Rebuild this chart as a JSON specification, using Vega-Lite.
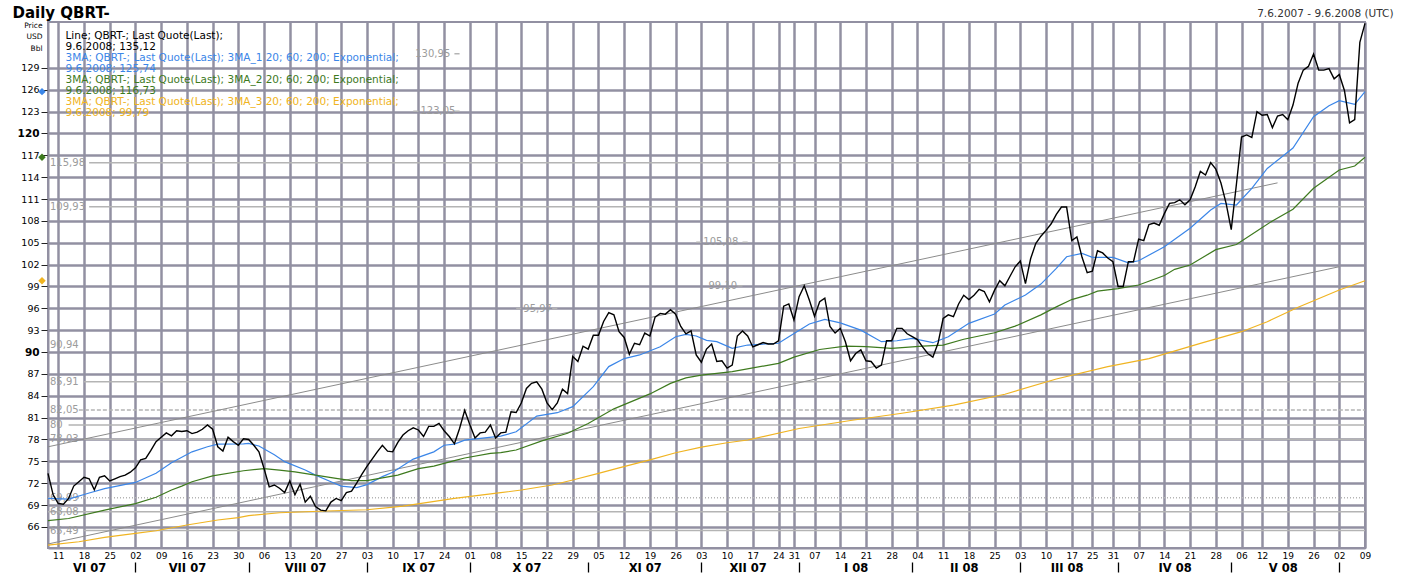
{
"$schema":"https://vega.github.io/schema/vega-lite/v6.json",
"width":1317,"height":526,
"autosize":{"type":"none"},
"padding":{"left":48,"top":22,"right":41,"bottom":27},
"background":"white",
"config":{"view":{"stroke":"#9290a2","strokeWidth":2}},
"datasets":{
"px":[
{"d":"2007-06-07","v":73.35},{"d":"2007-06-08","v":70.4},{"d":"2007-06-11","v":69.2},{"d":"2007-06-12","v":69.1},{"d":"2007-06-13","v":69.9},{"d":"2007-06-14","v":71.6},{"d":"2007-06-15","v":72.2},{"d":"2007-06-18","v":72.8},{"d":"2007-06-19","v":72.6},{"d":"2007-06-20","v":71.1},{"d":"2007-06-21","v":72.8},{"d":"2007-06-22","v":73.0},{"d":"2007-06-25","v":72.3},{"d":"2007-06-26","v":72.6},{"d":"2007-06-27","v":72.9},{"d":"2007-06-28","v":73.1},{"d":"2007-06-29","v":73.5},
{"d":"2007-07-02","v":74.1},{"d":"2007-07-03","v":75.2},{"d":"2007-07-04","v":75.4},{"d":"2007-07-05","v":76.5},{"d":"2007-07-06","v":77.7},{"d":"2007-07-09","v":78.3},{"d":"2007-07-10","v":78.9},{"d":"2007-07-11","v":78.5},{"d":"2007-07-12","v":79.2},{"d":"2007-07-13","v":79.1},{"d":"2007-07-16","v":79.2},{"d":"2007-07-17","v":78.8},{"d":"2007-07-18","v":79.0},{"d":"2007-07-19","v":79.4},{"d":"2007-07-20","v":80.0},{"d":"2007-07-23","v":79.4},{"d":"2007-07-24","v":77.0},{"d":"2007-07-25","v":76.4},{"d":"2007-07-26","v":78.3},{"d":"2007-07-27","v":77.7},{"d":"2007-07-30","v":77.2},{"d":"2007-07-31","v":78.1},
{"d":"2007-08-01","v":78.0},{"d":"2007-08-02","v":77.2},{"d":"2007-08-03","v":76.3},{"d":"2007-08-06","v":74.0},{"d":"2007-08-07","v":71.5},{"d":"2007-08-08","v":71.75},{"d":"2007-08-09","v":71.3},{"d":"2007-08-10","v":70.7},{"d":"2007-08-13","v":72.3},{"d":"2007-08-14","v":70.4},{"d":"2007-08-15","v":71.85},{"d":"2007-08-16","v":69.4},{"d":"2007-08-17","v":70.2},{"d":"2007-08-20","v":68.8},{"d":"2007-08-21","v":68.3},{"d":"2007-08-22","v":68.2},{"d":"2007-08-23","v":69.4},{"d":"2007-08-24","v":69.9},{"d":"2007-08-27","v":69.6},{"d":"2007-08-28","v":70.7},{"d":"2007-08-29","v":70.9},{"d":"2007-08-30","v":72.0},{"d":"2007-08-31","v":73.2},
{"d":"2007-09-03","v":74.3},{"d":"2007-09-04","v":75.3},{"d":"2007-09-05","v":76.3},{"d":"2007-09-06","v":77.2},{"d":"2007-09-07","v":76.4},{"d":"2007-09-10","v":76.3},{"d":"2007-09-11","v":77.6},{"d":"2007-09-12","v":78.6},{"d":"2007-09-13","v":79.2},{"d":"2007-09-14","v":79.6},{"d":"2007-09-17","v":79.3},{"d":"2007-09-18","v":78.4},{"d":"2007-09-19","v":79.8},{"d":"2007-09-20","v":79.8},{"d":"2007-09-21","v":80.2},{"d":"2007-09-24","v":79.2},{"d":"2007-09-25","v":78.4},{"d":"2007-09-26","v":77.4},{"d":"2007-09-27","v":79.5},{"d":"2007-09-28","v":82.0},
{"d":"2007-10-01","v":80.0},{"d":"2007-10-02","v":78.2},{"d":"2007-10-03","v":78.9},{"d":"2007-10-04","v":79.0},{"d":"2007-10-05","v":80.0},{"d":"2007-10-08","v":78.2},{"d":"2007-10-09","v":78.9},{"d":"2007-10-10","v":79.0},{"d":"2007-10-11","v":81.8},{"d":"2007-10-12","v":81.7},{"d":"2007-10-15","v":83.0},{"d":"2007-10-16","v":85.0},{"d":"2007-10-17","v":85.7},{"d":"2007-10-18","v":85.9},{"d":"2007-10-19","v":84.9},{"d":"2007-10-22","v":83.0},{"d":"2007-10-23","v":82.1},{"d":"2007-10-24","v":83.0},{"d":"2007-10-25","v":84.9},{"d":"2007-10-26","v":84.3},{"d":"2007-10-29","v":89.4},{"d":"2007-10-30","v":88.7},{"d":"2007-10-31","v":90.8},
{"d":"2007-11-01","v":90.4},{"d":"2007-11-02","v":92.3},{"d":"2007-11-05","v":92.3},{"d":"2007-11-06","v":94.2},{"d":"2007-11-07","v":95.4},{"d":"2007-11-08","v":95.1},{"d":"2007-11-09","v":92.8},{"d":"2007-11-12","v":92.0},{"d":"2007-11-13","v":89.7},{"d":"2007-11-14","v":91.2},{"d":"2007-11-15","v":91.0},{"d":"2007-11-16","v":92.6},{"d":"2007-11-19","v":92.2},{"d":"2007-11-20","v":94.8},{"d":"2007-11-21","v":95.3},{"d":"2007-11-22","v":95.2},{"d":"2007-11-23","v":95.8},{"d":"2007-11-26","v":95.2},{"d":"2007-11-27","v":93.5},{"d":"2007-11-28","v":92.5},{"d":"2007-11-29","v":92.9},{"d":"2007-11-30","v":89.6},
{"d":"2007-12-03","v":88.6},{"d":"2007-12-04","v":90.4},{"d":"2007-12-05","v":91.1},{"d":"2007-12-06","v":88.7},{"d":"2007-12-07","v":88.8},{"d":"2007-12-10","v":87.8},{"d":"2007-12-11","v":88.2},{"d":"2007-12-12","v":92.2},{"d":"2007-12-13","v":92.9},{"d":"2007-12-14","v":92.2},{"d":"2007-12-17","v":90.7},{"d":"2007-12-18","v":91.0},{"d":"2007-12-19","v":91.3},{"d":"2007-12-20","v":91.1},{"d":"2007-12-21","v":91.1},{"d":"2007-12-24","v":91.55},{"d":"2007-12-27","v":96.3},{"d":"2007-12-28","v":96.6},{"d":"2007-12-31","v":94.4},
{"d":"2008-01-02","v":97.6},{"d":"2008-01-03","v":99.1},{"d":"2008-01-04","v":97.1},{"d":"2008-01-07","v":94.9},{"d":"2008-01-08","v":96.9},{"d":"2008-01-09","v":97.4},{"d":"2008-01-10","v":93.5},{"d":"2008-01-11","v":92.6},{"d":"2008-01-14","v":93.25},{"d":"2008-01-15","v":91.4},{"d":"2008-01-16","v":88.8},{"d":"2008-01-17","v":89.8},{"d":"2008-01-18","v":90.3},{"d":"2008-01-21","v":88.8},{"d":"2008-01-22","v":88.7},{"d":"2008-01-23","v":87.8},{"d":"2008-01-24","v":88.2},{"d":"2008-01-25","v":91.55},{"d":"2008-01-28","v":91.55},{"d":"2008-01-29","v":93.25},{"d":"2008-01-30","v":93.25},{"d":"2008-01-31","v":92.5},
{"d":"2008-02-01","v":92.1},{"d":"2008-02-04","v":91.7},{"d":"2008-02-05","v":90.7},{"d":"2008-02-06","v":89.8},{"d":"2008-02-07","v":89.3},{"d":"2008-02-08","v":91.2},{"d":"2008-02-11","v":94.6},{"d":"2008-02-12","v":95.1},{"d":"2008-02-13","v":94.85},{"d":"2008-02-14","v":96.6},{"d":"2008-02-15","v":97.8},{"d":"2008-02-18","v":97.2},{"d":"2008-02-19","v":97.8},{"d":"2008-02-20","v":98.6},{"d":"2008-02-21","v":98.3},{"d":"2008-02-22","v":96.9},{"d":"2008-02-25","v":98.5},{"d":"2008-02-26","v":99.8},{"d":"2008-02-27","v":99.1},{"d":"2008-02-28","v":100.4},{"d":"2008-02-29","v":101.7},
{"d":"2008-03-03","v":102.5},{"d":"2008-03-04","v":99.4},{"d":"2008-03-05","v":102.8},{"d":"2008-03-06","v":104.9},{"d":"2008-03-07","v":105.9},{"d":"2008-03-10","v":106.7},{"d":"2008-03-11","v":107.6},{"d":"2008-03-12","v":108.9},{"d":"2008-03-13","v":109.9},{"d":"2008-03-14","v":109.9},{"d":"2008-03-17","v":105.3},{"d":"2008-03-18","v":105.8},{"d":"2008-03-19","v":103.0},{"d":"2008-03-20","v":100.9},{"d":"2008-03-25","v":101.1},{"d":"2008-03-26","v":103.9},{"d":"2008-03-27","v":103.6},{"d":"2008-03-28","v":102.9},{"d":"2008-03-31","v":102.4},
{"d":"2008-04-01","v":99.0},{"d":"2008-04-02","v":99.0},{"d":"2008-04-03","v":102.4},{"d":"2008-04-04","v":102.4},{"d":"2008-04-07","v":105.5},{"d":"2008-04-08","v":105.3},{"d":"2008-04-09","v":107.5},{"d":"2008-04-10","v":107.7},{"d":"2008-04-11","v":107.4},{"d":"2008-04-14","v":109.0},{"d":"2008-04-15","v":110.4},{"d":"2008-04-16","v":110.5},{"d":"2008-04-17","v":110.9},{"d":"2008-04-18","v":110.2},{"d":"2008-04-21","v":110.9},{"d":"2008-04-22","v":112.7},{"d":"2008-04-23","v":114.8},{"d":"2008-04-24","v":114.3},{"d":"2008-04-25","v":116.0},{"d":"2008-04-28","v":115.1},{"d":"2008-04-29","v":113.2},{"d":"2008-04-30","v":110.4},
{"d":"2008-05-01","v":106.8},{"d":"2008-05-02","v":113.0},{"d":"2008-05-06","v":119.5},{"d":"2008-05-07","v":119.8},{"d":"2008-05-08","v":119.45},{"d":"2008-05-09","v":123.0},{"d":"2008-05-12","v":122.5},{"d":"2008-05-13","v":122.6},{"d":"2008-05-14","v":120.8},{"d":"2008-05-15","v":122.4},{"d":"2008-05-16","v":122.6},{"d":"2008-05-19","v":121.9},{"d":"2008-05-20","v":123.9},{"d":"2008-05-21","v":126.9},{"d":"2008-05-22","v":128.7},{"d":"2008-05-23","v":129.2},{"d":"2008-05-26","v":130.9},{"d":"2008-05-27","v":128.7},{"d":"2008-05-28","v":128.7},{"d":"2008-05-29","v":128.9},{"d":"2008-05-30","v":127.5},
{"d":"2008-06-02","v":128.1},{"d":"2008-06-03","v":125.9},{"d":"2008-06-04","v":121.45},{"d":"2008-06-05","v":121.9},{"d":"2008-06-06","v":132.5},{"d":"2008-06-09","v":135.12}
],
"ema":[
{"s":"b","d":"2007-06-07","v":69.9},{"s":"b","d":"2007-06-13","v":69.8},{"s":"b","d":"2007-06-19","v":70.65},{"s":"b","d":"2007-06-22","v":71.25},{"s":"b","d":"2007-07-02","v":72.1},{"s":"b","d":"2007-07-06","v":73.35},{"s":"b","d":"2007-07-11","v":74.8},{"s":"b","d":"2007-07-17","v":76.3},{"s":"b","d":"2007-07-20","v":77.0},{"s":"b","d":"2007-07-24","v":77.35},{"s":"b","d":"2007-07-31","v":77.4},{"s":"b","d":"2007-08-01","v":77.45},{"s":"b","d":"2007-08-03","v":77.1},{"s":"b","d":"2007-08-08","v":75.9},{"s":"b","d":"2007-08-10","v":74.95},{"s":"b","d":"2007-08-16","v":73.8},{"s":"b","d":"2007-08-20","v":73.1},{"s":"b","d":"2007-08-23","v":72.2},{"s":"b","d":"2007-08-27","v":71.6},{"s":"b","d":"2007-08-30","v":71.4},{"s":"b","d":"2007-09-03","v":71.8},{"s":"b","d":"2007-09-06","v":72.9},{"s":"b","d":"2007-09-10","v":73.5},{"s":"b","d":"2007-09-14","v":75.3},{"s":"b","d":"2007-09-20","v":76.3},{"s":"b","d":"2007-09-24","v":77.2},{"s":"b","d":"2007-09-26","v":77.35},{"s":"b","d":"2007-09-28","v":77.9},{"s":"b","d":"2007-10-09","v":78.45},{"s":"b","d":"2007-10-12","v":79.05},{"s":"b","d":"2007-10-18","v":81.2},{"s":"b","d":"2007-10-24","v":81.67},{"s":"b","d":"2007-10-29","v":82.5},{"s":"b","d":"2007-11-02","v":85.25},{"s":"b","d":"2007-11-07","v":88.0},{"s":"b","d":"2007-11-12","v":89.1},{"s":"b","d":"2007-11-15","v":89.6},{"s":"b","d":"2007-11-21","v":90.73},{"s":"b","d":"2007-11-26","v":92.1},{"s":"b","d":"2007-11-28","v":92.43},{"s":"b","d":"2007-11-30","v":92.2},{"s":"b","d":"2007-12-04","v":91.6},{"s":"b","d":"2007-12-06","v":91.42},{"s":"b","d":"2007-12-11","v":90.5},{"s":"b","d":"2007-12-14","v":90.96},{"s":"b","d":"2007-12-24","v":91.2},{"s":"b","d":"2007-12-28","v":92.1},{"s":"b","d":"2008-01-04","v":93.84},{"s":"b","d":"2008-01-09","v":94.49},{"s":"b","d":"2008-01-14","v":94.0},{"s":"b","d":"2008-01-18","v":93.0},{"s":"b","d":"2008-01-24","v":91.42},{"s":"b","d":"2008-01-29","v":91.55},{"s":"b","d":"2008-02-01","v":91.88},{"s":"b","d":"2008-02-07","v":91.28},{"s":"b","d":"2008-02-12","v":92.1},{"s":"b","d":"2008-02-18","v":93.94},{"s":"b","d":"2008-02-25","v":95.22},{"s":"b","d":"2008-02-27","v":96.45},{"s":"b","d":"2008-03-04","v":97.82},{"s":"b","d":"2008-03-07","v":99.33},{"s":"b","d":"2008-03-12","v":101.49},{"s":"b","d":"2008-03-14","v":103.08},{"s":"b","d":"2008-03-19","v":103.54},{"s":"b","d":"2008-03-25","v":103.0},{"s":"b","d":"2008-03-31","v":103.0},{"s":"b","d":"2008-04-03","v":102.25},{"s":"b","d":"2008-04-07","v":102.53},{"s":"b","d":"2008-04-14","v":104.45},{"s":"b","d":"2008-04-21","v":106.98},{"s":"b","d":"2008-04-25","v":109.49},{"s":"b","d":"2008-04-29","v":110.4},{"s":"b","d":"2008-05-02","v":110.18},{"s":"b","d":"2008-05-08","v":112.47},{"s":"b","d":"2008-05-13","v":115.2},{"s":"b","d":"2008-05-20","v":118.0},{"s":"b","d":"2008-05-26","v":122.3},{"s":"b","d":"2008-05-29","v":123.8},{"s":"b","d":"2008-06-02","v":124.5},{"s":"b","d":"2008-06-05","v":124.0},{"s":"b","d":"2008-06-09","v":125.74},
{"s":"c","d":"2007-06-07","v":66.85},{"s":"c","d":"2007-06-13","v":67.15},{"s":"c","d":"2007-06-22","v":68.3},{"s":"c","d":"2007-07-02","v":69.2},{"s":"c","d":"2007-07-06","v":70.06},{"s":"c","d":"2007-07-11","v":71.06},{"s":"c","d":"2007-07-13","v":71.6},{"s":"c","d":"2007-07-17","v":72.2},{"s":"c","d":"2007-07-23","v":73.0},{"s":"c","d":"2007-07-31","v":73.7},{"s":"c","d":"2007-08-06","v":74.0},{"s":"c","d":"2007-08-09","v":73.8},{"s":"c","d":"2007-08-14","v":73.55},{"s":"c","d":"2007-08-20","v":73.1},{"s":"c","d":"2007-08-24","v":72.65},{"s":"c","d":"2007-08-29","v":72.35},{"s":"c","d":"2007-09-03","v":72.35},{"s":"c","d":"2007-09-11","v":73.1},{"s":"c","d":"2007-09-17","v":74.0},{"s":"c","d":"2007-09-20","v":74.35},{"s":"c","d":"2007-09-26","v":75.1},{"s":"c","d":"2007-09-28","v":75.45},{"s":"c","d":"2007-10-05","v":76.1},{"s":"c","d":"2007-10-09","v":76.2},{"s":"c","d":"2007-10-12","v":76.55},{"s":"c","d":"2007-10-19","v":77.8},{"s":"c","d":"2007-10-26","v":78.85},{"s":"c","d":"2007-11-01","v":80.2},{"s":"c","d":"2007-11-08","v":82.2},{"s":"c","d":"2007-11-19","v":84.25},{"s":"c","d":"2007-11-23","v":85.7},{"s":"c","d":"2007-11-28","v":86.45},{"s":"c","d":"2007-12-03","v":86.84},{"s":"c","d":"2007-12-11","v":87.3},{"s":"c","d":"2007-12-24","v":88.45},{"s":"c","d":"2007-12-31","v":89.3},{"s":"c","d":"2008-01-08","v":90.35},{"s":"c","d":"2008-01-15","v":90.8},{"s":"c","d":"2008-01-21","v":90.75},{"s":"c","d":"2008-01-28","v":90.5},{"s":"c","d":"2008-02-05","v":90.82},{"s":"c","d":"2008-02-11","v":90.96},{"s":"c","d":"2008-02-15","v":91.75},{"s":"c","d":"2008-02-25","v":92.65},{"s":"c","d":"2008-02-29","v":93.55},{"s":"c","d":"2008-03-07","v":95.1},{"s":"c","d":"2008-03-12","v":96.2},{"s":"c","d":"2008-03-17","v":97.2},{"s":"c","d":"2008-03-20","v":97.8},{"s":"c","d":"2008-03-26","v":98.35},{"s":"c","d":"2008-04-01","v":98.7},{"s":"c","d":"2008-04-07","v":99.2},{"s":"c","d":"2008-04-14","v":100.5},{"s":"c","d":"2008-04-16","v":101.35},{"s":"c","d":"2008-04-21","v":101.95},{"s":"c","d":"2008-04-28","v":104.05},{"s":"c","d":"2008-05-02","v":104.75},{"s":"c","d":"2008-05-09","v":106.6},{"s":"c","d":"2008-05-14","v":108.0},{"s":"c","d":"2008-05-20","v":109.6},{"s":"c","d":"2008-05-26","v":112.47},{"s":"c","d":"2008-06-02","v":114.98},{"s":"c","d":"2008-06-05","v":115.53},{"s":"c","d":"2008-06-09","v":116.73},
{"s":"d","d":"2007-06-07","v":63.5},{"s":"d","d":"2007-06-15","v":63.96},{"s":"d","d":"2007-06-22","v":64.57},{"s":"d","d":"2007-07-02","v":65.12},{"s":"d","d":"2007-07-06","v":65.47},{"s":"d","d":"2007-07-16","v":66.26},{"s":"d","d":"2007-07-24","v":66.94},{"s":"d","d":"2007-07-30","v":67.26},{"s":"d","d":"2007-08-01","v":67.55},{"s":"d","d":"2007-08-09","v":67.94},{"s":"d","d":"2007-08-22","v":68.18},{"s":"d","d":"2007-09-03","v":68.35},{"s":"d","d":"2007-09-12","v":68.86},{"s":"d","d":"2007-09-26","v":69.92},{"s":"d","d":"2007-10-09","v":70.69},{"s":"d","d":"2007-10-15","v":71.06},{"s":"d","d":"2007-10-23","v":71.75},{"s":"d","d":"2007-10-29","v":72.43},{"s":"d","d":"2007-11-05","v":73.35},{"s":"d","d":"2007-11-09","v":74.1},{"s":"d","d":"2007-11-19","v":75.2},{"s":"d","d":"2007-11-26","v":76.18},{"s":"d","d":"2007-12-03","v":76.95},{"s":"d","d":"2007-12-10","v":77.55},{"s":"d","d":"2007-12-14","v":77.92},{"s":"d","d":"2008-01-02","v":79.5},{"s":"d","d":"2008-01-16","v":80.6},{"s":"d","d":"2008-01-30","v":81.6},{"s":"d","d":"2008-02-13","v":82.7},{"s":"d","d":"2008-02-27","v":84.2},{"s":"d","d":"2008-03-12","v":86.3},{"s":"d","d":"2008-03-28","v":88.0},{"s":"d","d":"2008-04-09","v":89.1},{"s":"d","d":"2008-04-23","v":91.19},{"s":"d","d":"2008-05-06","v":92.79},{"s":"d","d":"2008-05-13","v":94.16},{"s":"d","d":"2008-05-21","v":96.14},{"s":"d","d":"2008-06-02","v":98.51},{"s":"d","d":"2008-06-09","v":99.79}
],
"tr":[
{"s":"A","d":"2007-06-07","v":76.99},{"s":"A","d":"2008-05-15","v":113.22},
{"s":"B","d":"2007-06-07","v":63.65},{"s":"B","d":"2008-06-02","v":101.71}
],
"lvl":[
{"v":130.95,"d":"2007-09-26","d2":"2007-09-27","k":"s"},
{"v":123.05,"d":"2007-09-14","d2":"2007-09-17","k":"s"},
{"v":123.05,"d":"2007-09-26","d2":"2007-09-27","k":"s"},
{"v":115.98,"d":"2007-06-19","d2":"2008-06-09","k":"s"},
{"v":109.93,"d":"2007-06-19","d2":"2008-06-09","k":"s"},
{"v":105.08,"d":"2007-11-30","d2":"2007-12-03","k":"s"},
{"v":105.08,"d":"2007-12-13","d2":"2007-12-14","k":"s"},
{"v":99.10,"d":"2007-12-12","d2":"2007-12-13","k":"s"},
{"v":95.97,"d":"2007-10-12","d2":"2007-10-15","k":"s"},
{"v":95.97,"d":"2007-10-23","d2":"2007-10-24","k":"s"},
{"v":85.91,"d":"2007-06-18","d2":"2008-06-09","k":"s"},
{"v":82.05,"d":"2007-06-15","d2":"2008-06-09","k":"da"},
{"v":80,"d":"2007-06-13","d2":"2008-06-09","k":"s"},
{"v":78.03,"d":"2007-06-18","d2":"2008-06-09","k":"s"},
{"v":69.99,"d":"2007-06-07","d2":"2008-06-09","k":"do"},
{"v":68.08,"d":"2007-06-07","d2":"2008-06-09","k":"s"},
{"v":65.49,"d":"2007-06-18","d2":"2008-06-09","k":"s"}
],
"lbl":[
{"v":130.95,"d":"2007-09-14","t":"130,95"},
{"v":123.05,"d":"2007-09-17","t":"123,05"},
{"v":115.98,"d":"2007-06-07","t":"115,98"},
{"v":109.93,"d":"2007-06-07","t":"109,93"},
{"v":105.08,"d":"2007-12-03","t":"105,08"},
{"v":99.10,"d":"2007-12-04","t":"99,10"},
{"v":95.97,"d":"2007-10-15","t":"95,97"},
{"v":90.94,"d":"2007-06-07","t":"90,94"},
{"v":85.91,"d":"2007-06-07","t":"85,91"},
{"v":82.05,"d":"2007-06-07","t":"82,05"},
{"v":80,"d":"2007-06-07","t":"80"},
{"v":78.03,"d":"2007-06-07","t":"78,03"},
{"v":69.99,"d":"2007-06-07","t":"69,99"},
{"v":68.08,"d":"2007-06-07","t":"68,08"},
{"v":65.49,"d":"2007-06-07","t":"65,49"}
],
"mk":[
{"s":"b","d":"2007-06-07","v":125.74},
{"s":"c","d":"2007-06-07","v":116.73},
{"s":"d","d":"2007-06-07","v":99.79}
]
},
"encoding":{
"y":{"field":"v","type":"quantitative",
"scale":{"domain":[63.1,135.3],"nice":false,"zero":false},
"axis":{
"values":[66,69,72,75,78,81,84,87,90,93,96,99,102,105,108,111,114,117,120,123,126,129],
"grid":true,"gridColor":"#9290a2","gridWidth":2.5,
"domainColor":"#9290a2","domainWidth":2,
"tickColor":"#222222","tickSize":7,"tickWidth":1,
"labelPadding":2,"labelFont":"DejaVu Sans","labelColor":"#000000",
"labelFontSize":{"condition":{"test":"datum.value == 90 || datum.value == 120","value":10.5},"value":9.5},
"labelFontWeight":{"condition":{"test":"datum.value == 90 || datum.value == 120","value":"bold"},"value":"normal"},
"labelOverlap":false,"labelFlush":false,
"title":["Price","USD","Bbl"],"titleAngle":0,"titleAlign":"right","titleBaseline":"top",
"titleX":-6,"titleY":-1,"titleFont":"DejaVu Sans","titleFontSize":7.5,"titleFontWeight":"normal",
"titleLineHeight":11.5,"titleColor":"#000000"
}}
},
"layer":[
{"data":{"name":"lvl"},
"mark":{"type":"rule","color":"#b4b4b4","strokeWidth":1.5},
"encoding":{
"x":{"field":"d","type":"ordinal","scale":{"type":"point","padding":0},
"axis":{"orient":"top","labels":false,"ticks":false,"domain":false,"grid":false,
"title":"Daily QBRT-","titleX":-36,"titleY":-5,"titleAlign":"left","titleBaseline":"alphabetic","titleAngle":0,
"titleFont":"DejaVu Sans","titleFontSize":15,"titleFontWeight":"bold","titleColor":"#000000"}},
"x2":{"field":"d2"},
"strokeDash":{"field":"k","type":"nominal","scale":{"domain":["s","da","do"],"range":[[1,0],[4,2],[1,2]]},"legend":null}
}},
{"data":{"name":"lbl"},
"mark":{"type":"text","align":"left","baseline":"middle","dx":2,"font":"DejaVu Sans","fontSize":10,"color":"#9c9c9c"},
"encoding":{
"x":{"field":"d","type":"ordinal","scale":{"type":"point","padding":0},
"axis":{"orient":"top","labels":false,"ticks":false,"domain":false,"grid":false,
"title":"7.6.2007 - 9.6.2008 (UTC)","titleX":1345,"titleY":-5.5,"titleAlign":"right","titleBaseline":"alphabetic","titleAngle":0,
"titleFont":"DejaVu Sans","titleFontSize":10.5,"titleFontWeight":"normal","titleColor":"#333333"}},
"text":{"field":"t"}
}},
{"data":{"name":"tr"},
"mark":{"type":"line","color":"#8c8c8c","strokeWidth":1},
"encoding":{
"x":{"field":"d","type":"ordinal","scale":{"type":"point","padding":0},
"axis":{"orient":"bottom","offset":14,"labels":false,"ticks":true,"tickSize":10,"tickWidth":1.3,"tickColor":"#000000","domain":false,"grid":false,"title":null,
"values":["2007-07-02","2007-08-01","2007-09-03","2007-10-01","2007-11-01","2007-12-03","2008-01-02","2008-02-01","2008-03-03","2008-04-01","2008-05-01","2008-06-02"]}},
"detail":{"field":"s"}
}},
{"data":{"name":"ema"},
"mark":{"type":"line","strokeWidth":1.2},
"encoding":{
"x":{"field":"d","type":"ordinal","scale":{"type":"point","padding":0},
"axis":{"orient":"bottom","offset":14,"ticks":false,"tickSize":0,"domain":false,"grid":false,"title":null,
"labelPadding":0,"labelFont":"DejaVu Sans","labelFontSize":11.5,"labelFontWeight":"bold","labelColor":"#000000",
"labelAngle":0,"labelAlign":"center","labelBaseline":"top","labelOverlap":false,
"values":["2007-06-19","2007-07-16","2007-08-16","2007-09-17","2007-10-16","2007-11-16","2007-12-14","2008-01-17","2008-02-15","2008-03-14","2008-04-16","2008-05-16"],
"labelExpr":"['I','II','III','IV','V','VI','VII','VIII','IX','X','XI','XII'][toNumber(slice(datum.value,5,7))-1] + ' ' + slice(datum.value,2,4)"}},
"color":{"field":"s","type":"nominal",
"scale":{"domain":["a","a2","b","b2","c","c2","d","d2"],"range":["#000000","#000000","#3b86e8","#3b86e8","#3e7a1e","#3e7a1e","#f0b422","#f0b422"]},
"legend":{"orient":"none","legendX":7,"legendY":9,"title":null,"padding":0,
"symbolSize":0,"symbolOpacity":0,"symbolStrokeWidth":0,"symbolType":"circle",
"labelFont":"DejaVu Sans","labelFontSize":10.5,"labelLimit":0,"labelOffset":0,"rowPadding":0,"clipHeight":10.2,
"labelExpr":"datum.value == 'a' ? 'Line; QBRT-; Last Quote(Last);' : datum.value == 'a2' ? '9.6.2008; 135,12' : datum.value == 'b' ? '3MA; QBRT-; Last Quote(Last); 3MA_1 20; 60; 200; Exponential;' : datum.value == 'b2' ? '9.6.2008; 125,74' : datum.value == 'c' ? '3MA; QBRT-; Last Quote(Last); 3MA_2 20; 60; 200; Exponential;' : datum.value == 'c2' ? '9.6.2008; 116,73' : datum.value == 'd' ? '3MA; QBRT-; Last Quote(Last); 3MA_3 20; 60; 200; Exponential;' : '9.6.2008; 99,79'",
"encode":{"labels":{"update":{"fill":{"scale":"color","field":"value"}}}}}}
}},
{"data":{"name":"px"},
"mark":{"type":"line","color":"#000000","strokeWidth":1.4},
"encoding":{
"x":{"field":"d","type":"ordinal","scale":{"type":"point","padding":0},
"axis":{"orient":"bottom","grid":true,"gridColor":"#9290a2","gridWidth":2.5,"ticks":false,"tickSize":0,
"domain":true,"domainColor":"#9290a2","domainWidth":2,"title":null,
"labelPadding":3,"labelFont":"DejaVu Sans","labelFontSize":9,"labelColor":"#000000","labelAngle":0,"labelAlign":"center","labelBaseline":"top","labelOverlap":false,"labelBound":false,
"values":["2007-06-11","2007-06-18","2007-06-25","2007-07-02","2007-07-09","2007-07-16","2007-07-23","2007-07-30","2007-08-06","2007-08-13","2007-08-20","2007-08-27","2007-09-03","2007-09-10","2007-09-17","2007-09-24","2007-10-01","2007-10-08","2007-10-15","2007-10-22","2007-10-29","2007-11-05","2007-11-12","2007-11-19","2007-11-26","2007-12-03","2007-12-10","2007-12-17","2007-12-24","2007-12-31","2008-01-07","2008-01-14","2008-01-21","2008-01-28","2008-02-04","2008-02-11","2008-02-18","2008-02-25","2008-03-03","2008-03-10","2008-03-17","2008-03-25","2008-03-31","2008-04-07","2008-04-14","2008-04-21","2008-04-28","2008-05-06","2008-05-12","2008-05-19","2008-05-26","2008-06-02","2008-06-09"],
"labelExpr":"slice(datum.value, 8, 10)"}}
}},
{"data":{"name":"mk"},
"mark":{"type":"point","shape":"diamond","filled":true,"size":55,"opacity":1,"xOffset":-6},
"encoding":{
"x":{"field":"d","type":"ordinal","scale":{"type":"point","padding":0},"axis":null},
"color":{"field":"s","type":"nominal",
"scale":{"domain":["a","a2","b","b2","c","c2","d","d2"],"range":["#000000","#000000","#3b86e8","#3b86e8","#3e7a1e","#3e7a1e","#f0b422","#f0b422"]},
"legend":{"orient":"none","legendX":7,"legendY":9,"title":null,"padding":0,
"symbolSize":0,"symbolOpacity":0,"symbolStrokeWidth":0,"symbolType":"circle",
"labelFont":"DejaVu Sans","labelFontSize":10.5,"labelLimit":0,"labelOffset":0,"rowPadding":0,"clipHeight":10.2,
"labelExpr":"datum.value == 'a' ? 'Line; QBRT-; Last Quote(Last);' : datum.value == 'a2' ? '9.6.2008; 135,12' : datum.value == 'b' ? '3MA; QBRT-; Last Quote(Last); 3MA_1 20; 60; 200; Exponential;' : datum.value == 'b2' ? '9.6.2008; 125,74' : datum.value == 'c' ? '3MA; QBRT-; Last Quote(Last); 3MA_2 20; 60; 200; Exponential;' : datum.value == 'c2' ? '9.6.2008; 116,73' : datum.value == 'd' ? '3MA; QBRT-; Last Quote(Last); 3MA_3 20; 60; 200; Exponential;' : '9.6.2008; 99,79'",
"encode":{"labels":{"update":{"fill":{"scale":"color","field":"value"}}}}}}
}}
],
"resolve":{"axis":{"x":"independent"}}
}
